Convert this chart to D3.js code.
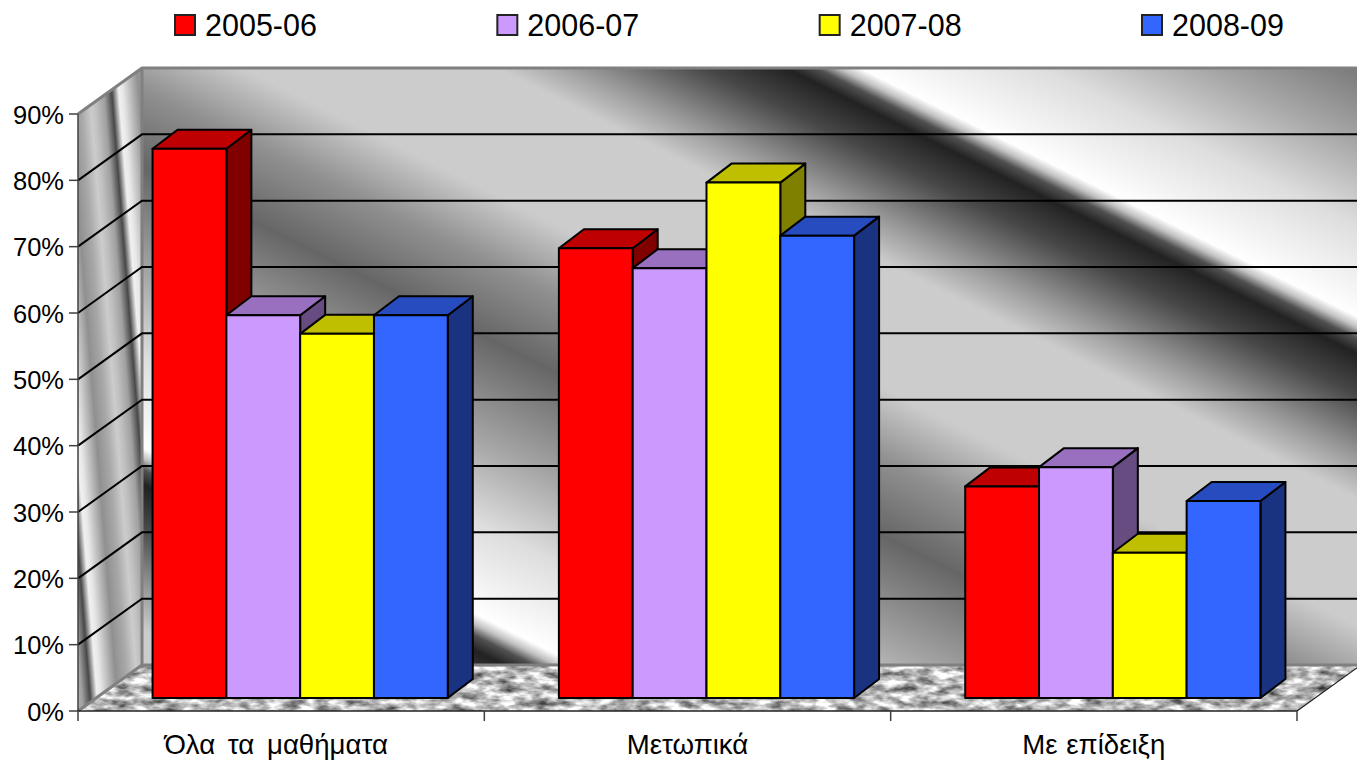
<!DOCTYPE html>
<html><head><meta charset="utf-8">
<script src="https://cdnjs.cloudflare.com/ajax/libs/d3/7.8.5/d3.min.js"></script>
<style>html,body{margin:0;padding:0;background:#fff;overflow:hidden}svg{display:block}text{font-family:"Liberation Sans",Arial,sans-serif;fill:#000}</style>
</head><body><div id="c"></div>
<script>
const categories = ["Όλα τα μαθήματα", "Μετωπικά", "Με επίδειξη"];
const seriesNames = ["2005-06", "2006-07", "2007-08", "2008-09"];
const values0506 = [82.8, 67.8, 31.9];
const values0607 = [57.7, 64.8, 34.8];
const values0708 = [54.9, 77.7, 21.9];
const values0809 = [57.7, 69.7, 29.7];
const seriesValues = [values0506, values0607, values0708, values0809];
const yTicks = [0, 10, 20, 30, 40, 50, 60, 70, 80, 90];
const frontColors = ["#FF0000", "#CC99FF", "#FFFF00", "#3366FF"];
const topColors = ["#BF0000", "#996FBF", "#BFBF00", "#264CBF"];
const sideColors = ["#800000", "#664C80", "#808000", "#1A3380"];
// periodic wall textures: [offset along stripe normal, grey level]
const stripeStops = [[0,0x66],[110,0xA8],[189,0xDD],[252,0xF4],[281,0xFF],[292,0xC0],[303,0x50],[318,0x22],[360,0x48],[420,0x98],[463,0xCC],[590,0xCC],[660,0x90],[738,0x66]];
const sideStops = [[0,0x48],[3,0x90],[7,0xF0],[11,0xE8],[16,0xCC],[27,0x90],[38,0xA8],[48,0xCC],[53,0xC0],[62,0xA0],[70,0x48]];
const labelDx = [-5, 0, 0];
const labelWordSpacing = [5, 0, 1];

const W = 1357, H = 760;
const depthX = 64, depthY = 46;           // full floor depth
const barShiftX = 19, barShiftY = 13;     // bar front face inside the floor
const barDepthX = 25, barDepthY = 19;     // bar depth
const svg = d3.select("#c").append("svg").attr("width", W).attr("height", H);
const defs = svg.append("defs");

const y = d3.scaleLinear().domain([0, 90]).range([711, 114]);
const x0 = d3.scaleBand().domain(categories).range([78, 1297]);
const barW = 73.8;
const x1 = d3.scaleBand().domain(seriesNames).range([0, barW * 4]);
const poly = pts => pts.map(p => p.join(",")).join(" ");

function stripe(id, stops, x1g, y1g, x2g, y2g) {
  const period = stops[stops.length - 1][0];
  const g = defs.append("linearGradient").attr("id", id).attr("gradientUnits", "userSpaceOnUse")
    .attr("spreadMethod", "repeat").attr("x1", x1g).attr("y1", y1g).attr("x2", x2g).attr("y2", y2g);
  stops.forEach(([o, v]) => g.append("stop").attr("offset", o / period).attr("stop-color", d3.rgb(v, v, v).formatHex()));
}
stripe("wallBack", stripeStops, 0, -643, -295.2, -52.6);
stripe("wallSide", sideStops, 104.4, 0, 173.95, -5.56);

const f = defs.append("filter").attr("id", "granite").attr("x", 0).attr("y", 0).attr("width", 1).attr("height", 1)
  .attr("color-interpolation-filters", "sRGB");
f.append("feTurbulence").attr("type", "fractalNoise").attr("baseFrequency", "0.06 0.14").attr("numOctaves", 3).attr("seed", 7).attr("result", "n");
f.append("feColorMatrix").attr("in", "n").attr("type", "matrix")
  .attr("values", "1.3 0 0 0 0.08  1.3 0 0 0 0.08  1.3 0 0 0 0.08  0 0 0 0 1").attr("result", "g");
f.append("feComposite").attr("in", "g").attr("in2", "SourceAlpha").attr("operator", "in");

const xL = x0.range()[0], xR = x0.range()[1];
const yB = y(0), yT = y(90);
// back wall
svg.append("rect").attr("x", xL + depthX).attr("y", yT - depthY).attr("width", W - xL - depthX + 2).attr("height", yB - yT)
  .attr("fill", "url(#wallBack)");
// side wall
svg.append("polygon").attr("points", poly([[xL, yT], [xL + depthX, yT - depthY], [xL + depthX, yB - depthY], [xL, yB]]))
  .attr("fill", "url(#wallSide)");
// floor
svg.append("polygon").attr("points", poly([[xL, yB], [xL + depthX, yB - depthY], [xR + depthX, yB - depthY], [xR, yB]]))
  .attr("fill", "#bbb").attr("filter", "url(#granite)");
// wall edges
const edge = "#808080";
svg.append("path").attr("fill", "none").attr("stroke", edge).attr("stroke-width", 3)
  .attr("d", `M${xL},${yT}L${xL + depthX},${yT - depthY}H${W + 2}M${xL + depthX},${yT - depthY}V${yB - depthY}L${xL},${yB}M${xL + depthX},${yB - depthY}H${W + 2}`);
// grid
const gridVals = yTicks.filter(d => d > 0 && d < 90);
svg.append("g").selectAll("path").data(gridVals).join("path").attr("fill", "none").attr("stroke", "#000").attr("stroke-width", 2)
  .attr("d", d => `M${xL},${y(d)}L${xL + depthX},${y(d) - depthY}H${W + 2}`);

// bars
const gBars = svg.append("g");
categories.forEach((c, ci) => {
  const cx = x0(c) + x0.bandwidth() / 2 + barShiftX;
  const left = cx - barW * 2;
  seriesNames.forEach((s, si) => {
    const v = seriesValues[si][ci];
    const xa = left + x1(s), xb = xa + x1.bandwidth();
    const yb = y(0) - barShiftY, yt = y(v) - barShiftY;
    const g = gBars.append("g").attr("stroke", "#000").attr("stroke-width", 2).attr("stroke-linejoin", "round");
    g.append("polygon").attr("fill", sideColors[si]).attr("points", poly([[xb, yt], [xb + barDepthX, yt - barDepthY], [xb + barDepthX, yb - barDepthY], [xb, yb]]));
    g.append("polygon").attr("fill", topColors[si]).attr("points", poly([[xa, yt], [xa + barDepthX, yt - barDepthY], [xb + barDepthX, yt - barDepthY], [xb, yt]]));
    g.append("rect").attr("fill", frontColors[si]).attr("x", xa).attr("y", yt).attr("width", xb - xa).attr("height", yb - yt);
  });
});

// y axis
const axis = "#404040";
const gy = svg.append("g");
gy.append("line").attr("x1", xL).attr("x2", xL).attr("y1", yT).attr("y2", yB).attr("stroke", axis).attr("stroke-width", 1.5);
gy.selectAll("line.t").data(yTicks).join("line").attr("class", "t").attr("x1", 69).attr("x2", xL)
  .attr("y1", d => y(d)).attr("y2", d => y(d)).attr("stroke", axis).attr("stroke-width", 1.5);
gy.selectAll("text").data(yTicks).join("text").attr("x", 64).attr("y", d => y(d) + 9.5).attr("text-anchor", "end")
  .attr("font-size", 25.5).text(d => d + "%");
// x axis
const gx = svg.append("g");
gx.append("line").attr("x1", xL).attr("x2", xR).attr("y1", yB).attr("y2", yB).attr("stroke", "#202020").attr("stroke-width", 1.5);
gx.append("line").attr("x1", xR).attr("x2", xR + depthX).attr("y1", yB).attr("y2", yB - depthY).attr("stroke", "#202020").attr("stroke-width", 1.2);
const xTicks = categories.map(c => x0(c)).concat([xR]);
gx.selectAll("line.t").data(xTicks).join("line").attr("class", "t").attr("x1", d => d).attr("x2", d => d)
  .attr("y1", yB).attr("y2", yB + 10).attr("stroke", axis).attr("stroke-width", 1.5);
gx.selectAll("text").data(categories).join("text").attr("x", (d, i) => x0(d) + x0.bandwidth() / 2 + labelDx[i]).attr("y", 754)
  .attr("text-anchor", "middle").attr("font-size", 27.6).attr("word-spacing", (d, i) => labelWordSpacing[i]).text(d => d);

// legend
const legendX = d3.scaleLinear().domain([0, 3]).range([175, 1142]);
const lg = svg.append("g").selectAll("g").data(seriesNames).join("g").attr("transform", (d, i) => `translate(${legendX(i)},0)`);
lg.append("rect").attr("x", 0).attr("y", 15).attr("width", 20).attr("height", 20)
  .attr("fill", (d, i) => frontColors[i]).attr("stroke", "#222").attr("stroke-width", 2);
lg.append("text").attr("x", 30).attr("y", 36).attr("font-size", 30.5).text(d => d);
</script></body></html>
